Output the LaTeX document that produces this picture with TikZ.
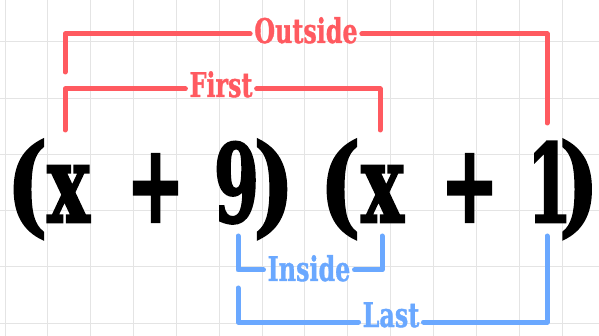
\documentclass[tikz,border=0pt]{standalone}
\usepackage{fontspec}
\newfontfamily\glfont{DejaVu Serif}[BoldFeatures={FakeBold=2.5}]
\newfontfamily\lbfont{DejaVu Serif}[BoldFeatures={FakeBold=1.2}]
\definecolor{redc}{RGB}{255,90,96}
\definecolor{bluec}{RGB}{106,168,255}
\definecolor{gridc}{RGB}{228,228,228}
\tikzset{
  glyph/.style={anchor=base, inner sep=0pt, text=black,
    font=\glfont\bfseries\fontsize{108}{108}\selectfont},
  lab/.style={anchor=base, inner xsep=4pt, inner ysep=1pt,
    font=\lbfont\bfseries\fontsize{34}{34}\selectfont},
  redlab/.style={lab, text=redc},
  bluelab/.style={lab, text=bluec},
  brk/.style={line width=5pt, line cap=round, line join=round},
  redbrk/.style={brk, draw=redc},
  bluebrk/.style={brk, draw=bluec},
  gridline/.style={draw=gridc, line width=1pt}
}
\newcommand{\sx}[2]{\scalebox{#1}[1]{#2}}
\begin{document}
\begin{tikzpicture}[x=1pt,y=-1pt]
\useasboundingbox[fill=white] (0,0) rectangle (599,336);
% grid
\foreach \k in {0,...,13} \draw[gridline] ({5+42.85*\k},0) -- ({5+42.85*\k},336);
\foreach \k in {0,...,5} \draw[gridline] (0,{42+56.2*\k}) -- (599,{42+56.2*\k});
% expression
\node[glyph] (lp1) at (27,222) {\sx{0.8}{(}};
\node[glyph] (xa) at (68.5,222) {\sx{0.66}{x}};
\node[glyph] (plusa) at (155.5,222) {\sx{0.64}{+}};
\node[glyph] (nine) at (236.5,222) {\sx{0.6}{9}};
\node[glyph] (rp1) at (274,222) {\sx{0.8}{)}};
\node[glyph] (lp2) at (340,222) {\sx{0.8}{(}};
\node[glyph] (xb) at (382.5,222) {\sx{0.66}{x}};
\node[glyph] (plusb) at (469.5,222) {\sx{0.64}{+}};
\node[glyph] (one) at (549.5,222) {\sx{0.6}{1}};
\node[glyph] (rp2) at (579,222) {\sx{0.78}{)}};
% Outside
\coordinate (oA) at (65,72);
\coordinate (oB) at (65,34);
\coordinate (oC) at (547,34);
\coordinate (oD) at (547,123);
\node[redlab] (outside) at (306,43) {\sx{0.7}{Outside}};
\draw[redbrk] (oA) -- (oB) -- (outside.west |- oB);
\draw[redbrk] (outside.east |- oC) -- (oC) -- (oD);
% First
\coordinate (fA) at (65,130);
\coordinate (fB) at (65,89);
\coordinate (fC) at (380,89);
\coordinate (fD) at (380,130);
\node[redlab] (first) at (221,97) {\sx{0.7}{First}};
\draw[redbrk] (fA) -- (fB) -- (first.west |- fB);
\draw[redbrk] (first.east |- fC) -- (fC) -- (fD);
% Inside
\coordinate (iA) at (238,236);
\coordinate (iB) at (238,270);
\coordinate (iC) at (382,270);
\coordinate (iD) at (382,236);
\node[bluelab] (inside) at (309,281) {\sx{0.7}{Inside}};
\draw[bluebrk] (iA) -- (iB) -- (inside.west |- iB);
\draw[bluebrk] (inside.east |- iC) -- (iC) -- (iD);
% Last
\coordinate (lA) at (238,288);
\coordinate (lB) at (238,322);
\coordinate (lC) at (547,322);
\coordinate (lD) at (547,236);
\node[bluelab] (last) at (391,327) {\sx{0.7}{Last}};
\draw[bluebrk] (lA) -- (lB) -- (last.west |- lB);
\draw[bluebrk] (last.east |- lC) -- (lC) -- (lD);
\end{tikzpicture}
\end{document}
